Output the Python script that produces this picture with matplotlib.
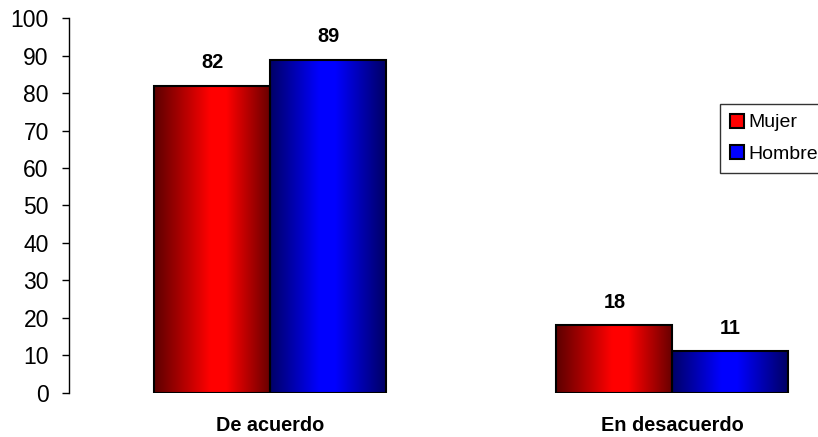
import matplotlib
matplotlib.use("Agg")
import matplotlib.pyplot as plt
import numpy as np
from matplotlib.colors import LinearSegmentedColormap
from matplotlib.patches import Patch

plt.rcParams['font.family'] = ['Liberation Sans', 'DejaVu Sans']

categories = ["De acuerdo", "En desacuerdo"]
series_names = ["Mujer", "Hombre"]
mujer = [82, 18]
hombre = [89, 11]
yticks = [0, 10, 20, 30, 40, 50, 60, 70, 80, 90, 100]

fig = plt.figure(figsize=(8.18, 4.37), dpi=100)
ax = fig.add_axes([69/818, 44.5/437, 804.5/818, 374/437])

x = np.arange(len(categories))
w = 0.2886

red_cmap = LinearSegmentedColormap.from_list(
    "r", [(0, (0.36, 0, 0)), (0.48, (1, 0, 0)), (0.62, (1, 0, 0)), (1, (0.40, 0, 0))])
blue_cmap = LinearSegmentedColormap.from_list(
    "b", [(0, (0, 0, 0.40)), (0.42, (0, 0, 1)), (0.56, (0, 0, 1)), (1, (0, 0, 0.38))])

b1 = ax.bar(x - w/2, mujer, w, facecolor='none', edgecolor='black', linewidth=1.5, zorder=3)
b2 = ax.bar(x + w/2, hombre, w, facecolor='none', edgecolor='black', linewidth=1.5, zorder=3)

grad = np.linspace(0, 1, 256).reshape(1, -1)
for bars, cmap in ((b1, red_cmap), (b2, blue_cmap)):
    for p in bars:
        x0, y0 = p.get_x(), p.get_y()
        im = ax.imshow(grad, cmap=cmap, aspect='auto',
                       extent=(x0, x0 + p.get_width(), y0, y0 + p.get_height()),
                       zorder=2, interpolation='bilinear')
        im.set_clip_path(p)

for bars, vals in ((b1, mujer), (b2, hombre)):
    for p, v in zip(bars, vals):
        ax.annotate(f"{v}", xy=(p.get_x() + p.get_width()/2, v),
                    xytext=(0, 16.6), textcoords='offset points',
                    ha='center', va='center', fontsize=14.3, fontweight='bold')

for i, c in enumerate(categories):
    ax.annotate(c, xy=(i, 0), xycoords=('data', 'axes fraction'),
                xytext=(0, -23.5), textcoords='offset points',
                ha='center', va='center', fontsize=14.3, fontweight='bold')

ax.set_xlim(-0.5, 1.5)
ax.set_ylim(0, 100)
ax.set_yticks(yticks)
ax.set_xticks([])
ax.tick_params(axis='y', direction='out', length=5, width=1, labelsize=16.5, pad=9.5)
for s in ('top', 'right', 'bottom'):
    ax.spines[s].set_visible(False)
ax.spines['left'].set_linewidth(1)

handles = [Patch(facecolor='#ff0000', edgecolor='black', linewidth=1.5),
           Patch(facecolor='#0000ff', edgecolor='black', linewidth=1.5)]
leg = fig.legend(handles, series_names, loc='upper left',
                 bbox_to_anchor=(720/818, 1 - 104/437), fontsize=14,
                 frameon=True, fancybox=False, shadow=False,
                 handlelength=0.72, handleheight=0.72, handletextpad=0.25,
                 borderpad=0.5, labelspacing=0.71, borderaxespad=0)
leg.get_frame().set_edgecolor('black')
leg.get_frame().set_linewidth(1)

fig.savefig("out.png", dpi=100)
